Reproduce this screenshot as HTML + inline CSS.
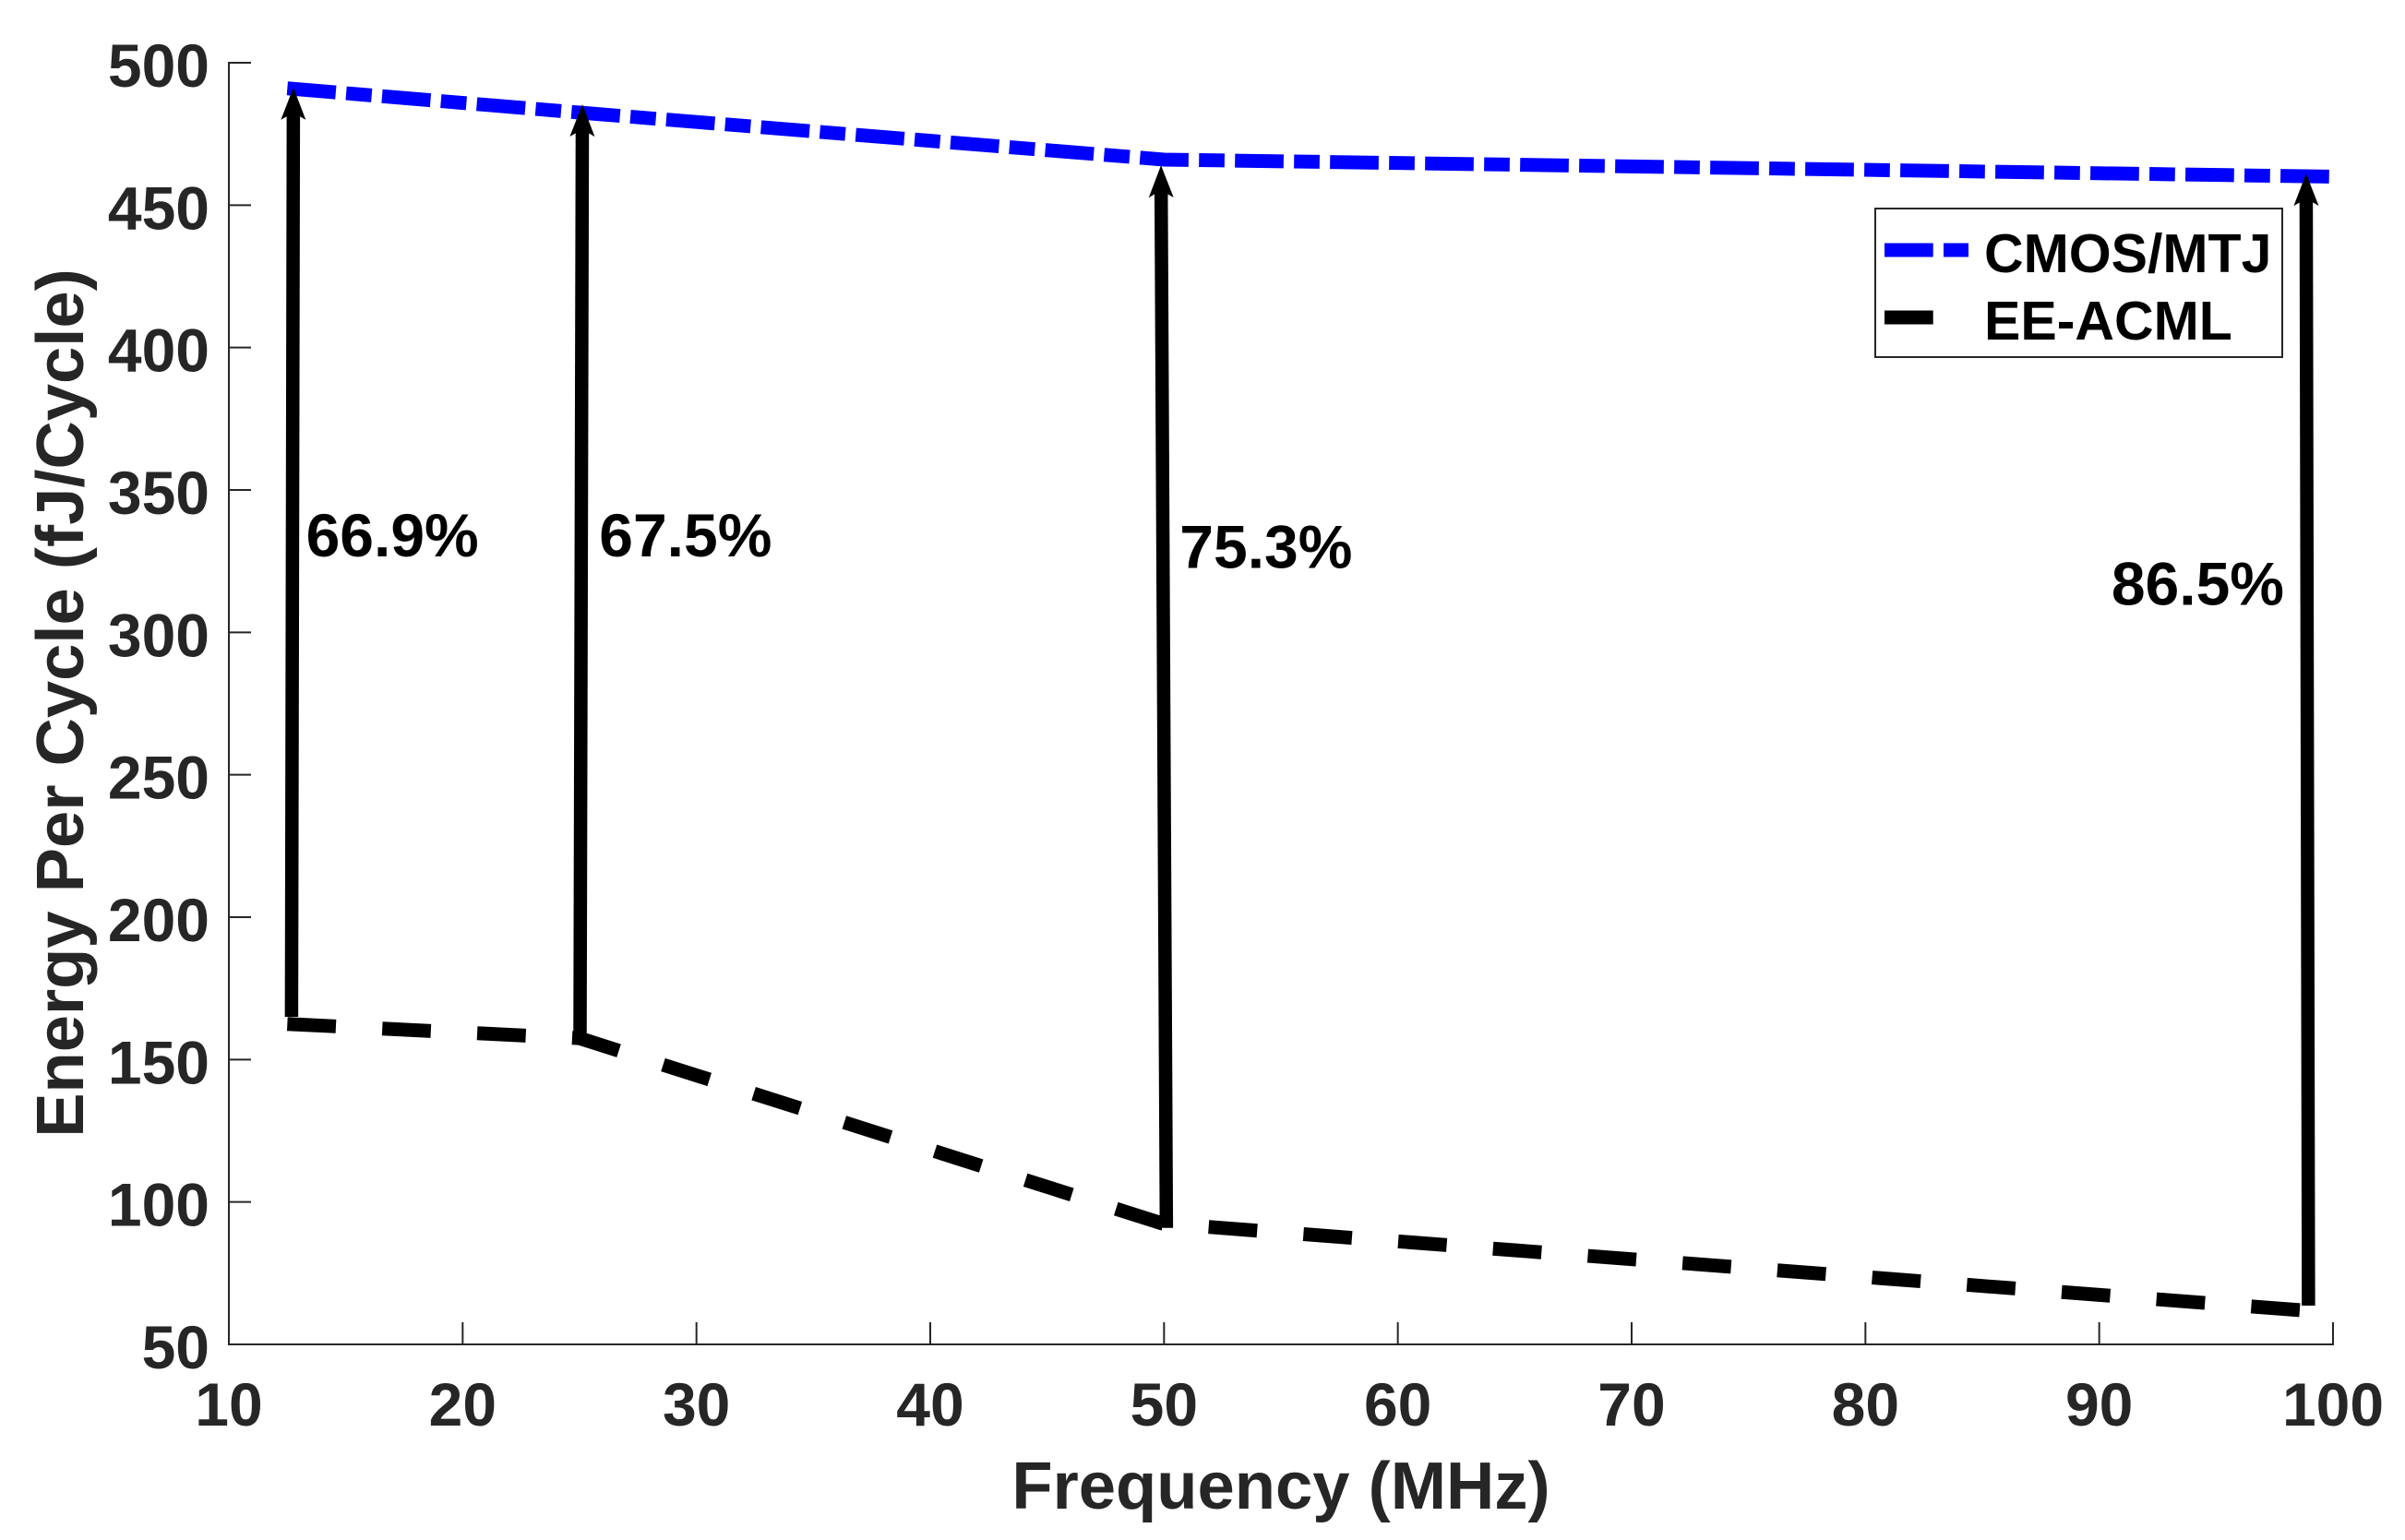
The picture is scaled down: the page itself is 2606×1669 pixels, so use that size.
<!DOCTYPE html>
<html lang="en">
<head>
<meta charset="utf-8">
<title>Energy Per Cycle vs Frequency</title>
<style>
html,body{margin:0;padding:0;background:#fff;}
svg{display:block;}
text{font-family:"Liberation Sans",Arial,sans-serif;font-weight:bold;}
.tick-label{font-size:66px;fill:#262626;}
.axis-title{font-size:72.4px;fill:#262626;}
.annotation{font-size:66px;fill:#000;}
.legend-text{font-size:59px;fill:#000;}
</style>
</head>
<body>
<svg id="chart" xmlns="http://www.w3.org/2000/svg" width="2606" height="1669" viewBox="0 0 2606 1669">
  <rect x="0" y="0" width="2606" height="1669" fill="#fff"/>
  <g id="series-layer"></g>
  <g id="arrow-layer"></g>
  <g id="axis-layer"></g>
  <g id="annotation-layer"></g>
  <text class="axis-title" x="1388" y="1635" text-anchor="middle">Frequency (MHz)</text>
  <text class="axis-title" x="90" y="762" text-anchor="middle" transform="rotate(-90 90 762)">Energy Per Cycle (fJ/Cycle)</text>
  <g>
    <rect x="2032" y="226" width="441" height="161" fill="#fff" stroke="#262626" stroke-width="2"/>
    <line x1="2042" y1="271" x2="2133" y2="271" stroke="#0000ff" stroke-width="15" stroke-dasharray="52.7 11.3 27.7 11.3"/>
    <text class="legend-text" x="2150" y="295">CMOS/MTJ</text>
    <line x1="2042" y1="344" x2="2133" y2="344" stroke="#000" stroke-width="15" stroke-dasharray="52.7 50.3"/>
    <text class="legend-text" x="2150" y="368">EE-ACML</text>
  </g>
</svg>
<script>
const xTicks = [10, 20, 30, 40, 50, 60, 70, 80, 90, 100];
const yTicks = [50, 100, 150, 200, 250, 300, 350, 400, 450, 500];
const cmosFrequency = [12.5, 25, 50, 100];
const cmosEnergy = [491, 482.5, 466, 460];
const eeFrequency = [12.5, 25, 49.9, 98.6];
const eeEnergy = [162.5, 157.5, 92.5, 62];
const arrowTailFrequency = [12.68, 25.02, 50.1, 98.95];
const arrowTailEnergy = [165, 159.2, 90.9, 63.6];
const arrowTipFrequency = [12.76, 25.12, 49.87, 98.85];
const arrowTipEnergy = [491.3, 485.4, 464, 461.1];
const savingsLabels = ['66.9%', '67.5%', '75.3%', '86.5%'];
const savingsLabelFrequency = [13.3, 25.84, 50.67, 90.52];
const savingsLabelEnergy = [326.6, 326.6, 322.6, 309.6];

const NS = 'http://www.w3.org/2000/svg';
const plotLeft = 248, plotRight = 2528, plotTop = 68, plotBottom = 1457;
const xScale = v => plotLeft + (v - 10) / (100 - 10) * (plotRight - plotLeft);
const yScale = v => plotBottom - (v - 50) / (500 - 50) * (plotBottom - plotTop);
const axisLayer = document.getElementById('axis-layer');
const seriesLayer = document.getElementById('series-layer');
const arrowLayer = document.getElementById('arrow-layer');
const annotationLayer = document.getElementById('annotation-layer');

function make(tag, attrs, parent) {
  const el = document.createElementNS(NS, tag);
  for (const k in attrs) el.setAttribute(k, attrs[k]);
  parent.appendChild(el);
  return el;
}

const axisStyle = {stroke: '#262626', 'stroke-width': 2, fill: 'none'};

const xAxisLine = make('line', {x1: plotLeft - 1, y1: plotBottom, x2: plotRight + 1, y2: plotBottom, ...axisStyle}, axisLayer);


const yAxisLine = make('line', {x1: plotLeft, y1: plotTop - 1, x2: plotLeft, y2: plotBottom + 1, ...axisStyle}, axisLayer);



xTicks.forEach(t => {
  const px = xScale(t);
  const tick = make('line', {x1: px, y1: plotBottom, x2: px, y2: plotBottom - 24, ...axisStyle}, axisLayer);
  
  
  const label = make('text', {x: px, y: 1545, 'text-anchor': 'middle', class: 'tick-label'}, axisLayer);
  
  
  label.textContent = t;
});

yTicks.forEach(t => {
  const py = yScale(t);
  const tick = make('line', {x1: plotLeft, y1: py, x2: plotLeft + 24, y2: py, ...axisStyle}, axisLayer);
  
  
  const label = make('text', {x: 227, y: py + 26, 'text-anchor': 'end', class: 'tick-label'}, axisLayer);
  
  
  label.textContent = t;
});

function pointsFor(xs, ys) {
  return xs.map((x, i) => xScale(x).toFixed(2) + ',' + yScale(ys[i]).toFixed(2)).join(' ');
}

const cmosLine = make('polyline', {points: pointsFor(cmosFrequency, cmosEnergy), fill: 'none', stroke: '#0000ff', 'stroke-width': 15, 'stroke-dasharray': '52.7 11.3 27.7 11.3', 'stroke-linejoin': 'miter'}, seriesLayer);



const eeLine = make('polyline', {points: pointsFor(eeFrequency, eeEnergy), fill: 'none', stroke: '#000', 'stroke-width': 15, 'stroke-dasharray': '52.7 50.3', 'stroke-linejoin': 'miter'}, seriesLayer);



arrowTipFrequency.forEach((f, i) => {
  const tx = xScale(f), ty = yScale(arrowTipEnergy[i]);
  const bx = xScale(arrowTailFrequency[i]), by = yScale(arrowTailEnergy[i]);
  const len = Math.hypot(tx - bx, ty - by);
  const ux = (tx - bx) / len, uy = (ty - by) / len;
  const nx = -uy, ny = ux;
  const at = (along, side) => (tx - ux * along + nx * side).toFixed(2) + ',' + (ty - uy * along + ny * side).toFixed(2);
  const shaft = make('line', {x1: bx, y1: by, x2: tx - ux * 28, y2: ty - uy * 28, stroke: '#000', 'stroke-width': 14.5}, arrowLayer);
  
  
  const head = make('polygon', {points: [at(0, 0), at(35, 13.5), at(31.5, 7.5), at(31.5, -7.5), at(35, -13.5)].join(' '), fill: '#000'}, arrowLayer);
  
  
});

savingsLabels.forEach((s, i) => {
  const label = make('text', {x: xScale(savingsLabelFrequency[i]), y: yScale(savingsLabelEnergy[i]), class: 'annotation'}, annotationLayer);
  
  
  label.textContent = s;
});
</script>
</body>
</html>
